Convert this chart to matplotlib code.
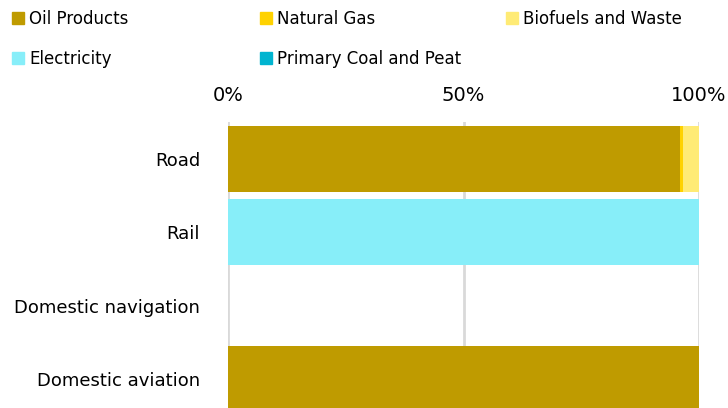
import matplotlib
matplotlib.use("Agg")
from matplotlib import pyplot as plt
from matplotlib.patches import Patch
import numpy as np

categories = ["Road", "Rail", "Domestic navigation", "Domestic aviation"]
series_names = ["Oil Products", "Natural Gas", "Biofuels and Waste",
                "Electricity", "Primary Coal and Peat"]
colors = ["#BF9B00", "#FFD200", "#FFEB75", "#87EEF9", "#00B4D0"]

# share of each fuel per mode (%)
oil = [96.0, 0.0, 0.0, 100.0]
gas = [0.6, 0.0, 0.0, 0.0]
biofuels = [3.4, 0.0, 0.0, 0.0]
electricity = [0.0, 100.0, 0.0, 0.0]
coal = [0.0, 0.0, 0.0, 0.0]
values = [oil, gas, biofuels, electricity, coal]

plt.rcParams['font.family'] = ['DejaVu Sans']

fig = plt.figure(figsize=(7.28, 4.08), dpi=100)
ax = fig.add_axes([0.3132, -0.0196, 0.647, 0.7206])

y = np.arange(len(categories))
left = np.zeros(len(categories))
for name, vals, col in zip(series_names, values, colors):
    vals = np.array(vals)
    ax.barh(y, vals, left=left, height=0.9, color=col, label=name, zorder=3)
    left += vals

ax.set_xlim(0, 100)
ax.set_ylim(len(categories) - 0.5, -0.5)
ax.set_yticks(y)
ax.set_yticklabels(categories, fontsize=13)
ax.set_xticks([0, 50, 100])
ax.set_xticklabels(["0%", "50%", "100%"], fontsize=14)
ax.xaxis.tick_top()
ax.tick_params(axis='both', length=0)
ax.tick_params(axis='y', pad=20)
ax.tick_params(axis='x', pad=12)
ax.grid(axis='x', color='#D9D9D9', linewidth=2, zorder=0)
for s in ax.spines.values():
    s.set_visible(False)

handles = [Patch(color=c) for c in colors]
cols = [[0, 3], [1, 4], [2]]
xpos = [0.008, 0.348, 0.686]
for idx, xp in zip(cols, xpos):
    fig.legend([handles[i] for i in idx], [series_names[i] for i in idx],
               loc='upper left', bbox_to_anchor=(xp, 0.993), frameon=False,
               fontsize=12, handlelength=0.7, handleheight=0.7,
               handletextpad=0.3, labelspacing=1.35, borderaxespad=0)

fig.savefig("out.png", dpi=100)
